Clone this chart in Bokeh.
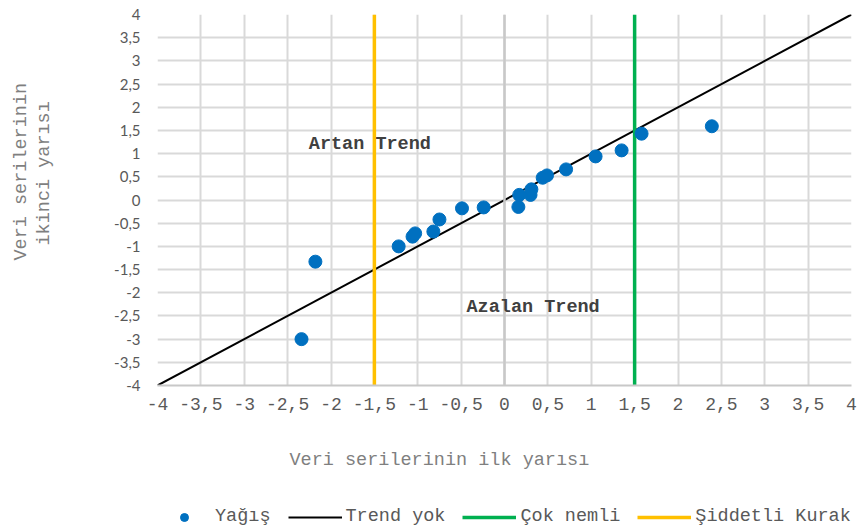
from bokeh.plotting import figure
from bokeh.layouts import column
from bokeh.models import (FixedTicker, Span, Label, Legend, LegendItem, Title)
from bokeh.embed import file_html
from bokeh.resources import INLINE

# ---- data ----
first_half = [-2.34, -2.18, -1.22, -1.06, -1.03, -0.82, -0.75, -0.49, -0.24,
              0.16, 0.17, 0.30, 0.31, 0.44, 0.49, 0.71, 1.05, 1.35, 1.58, 2.39]
second_half = [-3.00, -1.33, -1.00, -0.79, -0.72, -0.68, -0.42, -0.18, -0.16,
               -0.15, 0.11, 0.11, 0.23, 0.48, 0.53, 0.66, 0.94, 1.07, 1.43, 1.59]
trend_x = [-4, 4]
trend_y = [-4, 4]
wet_threshold = 1.5
drought_threshold = -1.5
axis_min, axis_max = -4, 4
tick_values = [-4, -3.5, -3, -2.5, -2, -1.5, -1, -0.5, 0, 0.5, 1, 1.5, 2, 2.5, 3, 3.5, 4]
tick_labels = ["-4", "-3,5", "-3", "-2,5", "-2", "-1,5", "-1", "-0,5", "0",
               "0,5", "1", "1,5", "2", "2,5", "3", "3,5", "4"]
series_names = ["Yağış", "Trend yok", "Çok nemli", "Şiddetli Kurak"]
series_colors = ["#0070C0", "black", "#00B050", "#FFC000"]
x_title = "Veri serilerinin ilk yarısı"
y_title_lines = ["Veri serilerinin", "ikinci yarısı"]
zone_labels = ["Artan Trend", "Azalan Trend"]

MONO = "Liberation Mono"
TXT = "18.5px"

p = figure(frame_width=694, frame_height=371, x_range=(axis_min, axis_max), y_range=(axis_min, axis_max),
           output_backend="svg", toolbar_location=None,
           min_border_left=157, min_border_right=10, min_border_top=14, min_border_bottom=0)
p.outline_line_color = None
p.background_fill_color = "white"

labels_map = {v: l for v, l in zip(tick_values, tick_labels)}

# x axis
xa = p.xaxis[0]
xa.ticker = FixedTicker(ticks=tick_values)
xa.major_label_overrides = labels_map
xa.major_tick_out = 0
xa.major_tick_in = 0
xa.minor_tick_out = 0
xa.minor_tick_in = 0
xa.axis_line_color = "#C8C8C8"
xa.axis_line_width = 2
xa.major_label_text_font = MONO
xa.major_label_text_font_size = "18px"
xa.major_label_text_color = "#595959"
xa.major_label_standoff = 12
xa.axis_label = " "           # spacer
xa.axis_label_text_font_size = "1px"
xa.axis_label_standoff = 15

# y axis
ya = p.yaxis[0]
ya.ticker = FixedTicker(ticks=tick_values)
ya.major_label_overrides = labels_map
ya.major_tick_out = 0
ya.major_tick_in = 0
ya.minor_tick_out = 0
ya.minor_tick_in = 0
ya.axis_line_color = None
ya.major_label_text_font = "Lato"
ya.major_label_text_font_size = "15px"
ya.major_label_text_color = "#595959"
ya.major_label_standoff = 17
ya.axis_label = " "           # spacer
ya.axis_label_text_font_size = "1px"
ya.axis_label_standoff = 52

for g in (p.xgrid[0], p.ygrid[0]):
    g.grid_line_color = "#D9D9D9"
    g.grid_line_width = 2

p.add_layout(Span(location=0, dimension="height", line_color="#C8C8C8", line_width=2.5))

# glyphs
p.line(trend_x, trend_y, line_color=series_colors[1], line_width=2)
p.line([wet_threshold, wet_threshold], [axis_min, axis_max], line_color=series_colors[2], line_width=3.5)
p.line([drought_threshold, drought_threshold], [axis_min, axis_max], line_color=series_colors[3], line_width=3.5)
p.scatter(first_half, second_half, size=13, fill_color=series_colors[0], line_color=series_colors[0])

# zone annotations
p.add_layout(Label(x=-2.256, y=1.186, text=zone_labels[0], text_font=MONO, text_font_size=TXT,
                   text_font_style="bold", text_color="#404040", text_baseline="middle", text_align="left"))
p.add_layout(Label(x=-0.438, y=-2.31, text=zone_labels[1], text_font=MONO, text_font_size=TXT,
                   text_font_style="bold", text_color="#404040", text_baseline="middle", text_align="left"))

def mk_title(text, offset, valign, standoff=0):
    return Title(text=text, align="left", offset=offset, vertical_align=valign, standoff=standoff,
                 text_font=MONO, text_font_size=TXT, text_font_style="normal", text_color="#7F7F7F")

p.add_layout(mk_title(y_title_lines[1], 140, "middle"), "left")
p.add_layout(mk_title(y_title_lines[0], 125, "middle"), "left")
p.add_layout(mk_title(x_title, 132, "top", standoff=36), "below")

# ---- legend strip (separate small figure placed under the chart) ----
lg = figure(width=861, height=39, x_range=(0, 1), y_range=(0, 1), output_backend="svg",
            toolbar_location=None, x_axis_location=None, y_axis_location=None,
            min_border_left=0, min_border_right=0, min_border_top=0, min_border_bottom=0)
lg.outline_line_color = None
lg.grid.grid_line_color = None
# swatch renderers hold one point placed outside the visible range
lg_pts = lg.scatter([5], [5], size=13, fill_color=series_colors[0], line_color=series_colors[0])
lg_trend = lg.line([5, 6], [5, 6], line_color=series_colors[1], line_width=2)
lg_wet = lg.line([5, 6], [5, 6], line_color=series_colors[2], line_width=3.5)
lg_dry = lg.line([5, 6], [5, 6], line_color=series_colors[3], line_width=3.5)

legend = Legend(items=[LegendItem(label=series_names[0], renderers=[lg_pts]),
                       LegendItem(label=series_names[1], renderers=[lg_trend]),
                       LegendItem(label=series_names[2], renderers=[lg_wet]),
                       LegendItem(label=series_names[3], renderers=[lg_dry])],
                orientation="horizontal", location=(0, 2),
                glyph_width=54, glyph_height=20, label_standoff=4, spacing=17,
                padding=0, margin=0, border_line_color=None, background_fill_alpha=0,
                label_text_font=MONO, label_text_font_size=TXT, label_text_color="#595959")
lg.add_layout(legend, "center")

open("out.html", "w").write(file_html(column(p, lg, spacing=0), INLINE))
